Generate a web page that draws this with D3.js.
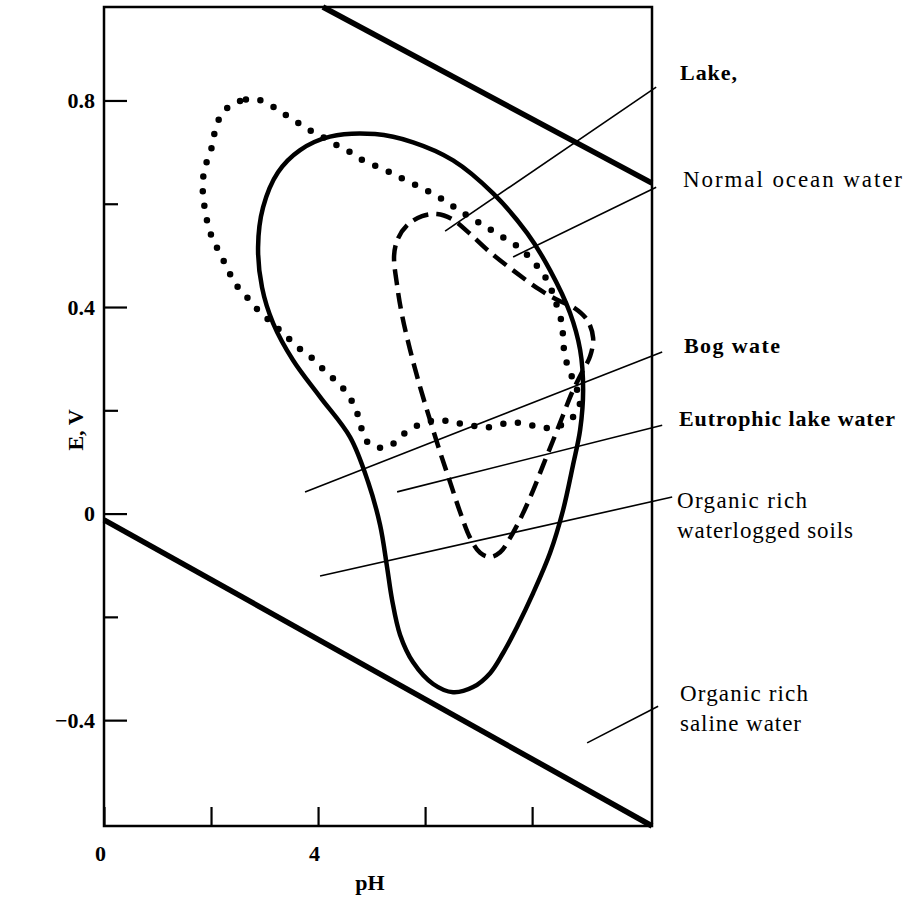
<!DOCTYPE html>
<html><head><meta charset="utf-8">
<script src="https://cdn.jsdelivr.net/npm/d3@7/dist/d3.min.js"></script>
<style>body{margin:0;background:#fff}</style>
</head><body>
<svg id="chart" width="906" height="897"></svg>
<script>
// ---------- data ----------
const xTickValues = [0, 2, 4, 6, 8];
const xTickLabels = ["0", "", "4", "", ""];
const yMajorTicks = [0.8, 0.4, 0, -0.4];
const yMajorLabels = ["0.8", "0.4", "0", "\u22120.4"];
const yMinorTicks = [0.6, 0.2, -0.2];
const xTitle = "pH";
const yTitle = "E, V";

// water stability limits [pH, E]
const upperLimit = [[4.09, 0.981], [10.24, 0.640]];
const lowerLimit = [[0, -0.012], [10.24, -0.605]];

// solid contour
const solidCurve = [
  [5.065,0.735],[5.776,0.719],[6.523,0.684],[7.271,0.620],[7.907,0.543],[8.336,0.471],
  [8.710,0.388],[8.897,0.317],[8.953,0.239],[8.897,0.162],[8.766,0.095],[8.579,0.007],
  [8.336,-0.076],[8.019,-0.154],[7.720,-0.219],[7.458,-0.270],[7.215,-0.309],[6.897,-0.336],
  [6.523,-0.346],[6.150,-0.330],[5.776,-0.288],[5.533,-0.235],[5.383,-0.167],[5.290,-0.104],
  [5.159,-0.022],[4.935,0.061],[4.598,0.148],[4.037,0.226],[3.533,0.297],[3.159,0.369],
  [2.953,0.438],[2.879,0.516],[2.972,0.593],[3.252,0.661],[3.664,0.704],[4.224,0.730]
];

// dotted contour
const dottedCurve = [
  [2.822,0.803],[2.542,0.799],[2.299,0.785],[2.150,0.764],[2.056,0.733],[2.000,0.704],
  [1.907,0.677],[1.850,0.648],[1.850,0.617],[1.888,0.588],[1.944,0.559],[2.037,0.530],
  [2.168,0.504],[2.318,0.472],[2.449,0.446],[2.673,0.419],[2.879,0.394],[3.140,0.369],
  [3.383,0.346],[3.626,0.322],[3.888,0.301],[4.168,0.272],[4.411,0.249],[4.598,0.224],
  [4.729,0.195],[4.822,0.162],[4.972,0.133],[5.308,0.129],[5.570,0.152],[5.869,0.171],
  [6.224,0.181],[6.523,0.177],[6.841,0.171],[7.178,0.167],[7.533,0.175],[7.832,0.175],
  [8.150,0.167],[8.430,0.167],[8.748,0.185],[8.897,0.216],[8.804,0.249],[8.710,0.274],
  [8.617,0.303],[8.579,0.336],[8.561,0.365],[8.430,0.413],[8.280,0.452],[8.112,0.477],
  [7.925,0.499],[7.720,0.518],[7.458,0.535],[7.178,0.553],[6.935,0.568],[6.654,0.586],
  [6.411,0.603],[6.150,0.619],[5.907,0.632],[5.626,0.646],[5.383,0.659],[5.121,0.671],
  [4.841,0.684],[4.598,0.700],[4.355,0.713],[4.093,0.729],[3.850,0.742],[3.607,0.758],
  [3.346,0.775],[3.103,0.791]
];

// dashed contour
const dashedCurve = [
  [5.421,0.500],[5.495,0.533],[5.682,0.560],[5.944,0.576],[6.224,0.580],[6.505,0.570],
  [6.804,0.545],[7.215,0.506],[7.682,0.468],[8.150,0.433],[8.486,0.413],[8.766,0.400],
  [9.028,0.375],[9.140,0.340],[9.084,0.305],[8.935,0.274],[8.748,0.235],[8.579,0.191],
  [8.393,0.142],[8.206,0.094],[8.019,0.045],[7.813,-0.003],[7.589,-0.047],[7.402,-0.075],
  [7.215,-0.084],[7.028,-0.076],[6.841,-0.047],[6.654,0.003],[6.467,0.061],[6.280,0.119],
  [6.093,0.181],[5.907,0.245],[5.720,0.317],[5.570,0.384],[5.477,0.442]
];

// leader lines [from, to] in [pH, E]
const leaderLines = [
  [[6.374,0.547],[10.318,0.826]],
  [[7.645,0.497],[10.318,0.632]],
  [[3.757,0.042],[10.430,0.313]],
  [[5.477,0.042],[10.430,0.171]],
  [[4.037,-0.121],[10.617,0.032]],
  [[9.028,-0.444],[10.355,-0.373]]
];
const labelTexts = [
  ["Lake,"],
  ["Normal ocean water"],
  ["Bog wate"],
  ["Eutrophic lake water"],
  ["Organic rich", "waterlogged soils"],
  ["Organic rich", "saline water"]
];

// ---------- layout ----------
const L = 104, R = 652, T = 7, B = 826;
const svg = d3.select("#chart");
const x = d3.scaleLinear().domain([0, 10.24]).range([L, R]);
const y = d3.scaleLinear().domain([-0.605, 0.981]).range([B, T]);
const serif = "'Liberation Serif', 'Times New Roman', serif";

// frame
svg.append("rect").attr("x", L).attr("y", T).attr("width", R - L).attr("height", B - T)
  .attr("fill", "none").attr("stroke", "#000").attr("stroke-width", 2.5);

// axes
const yAxisMajor = svg.append("g").attr("transform", `translate(${L},0)`)
  .call(d3.axisLeft(y).tickValues(yMajorTicks).tickSize(-23).tickPadding(9)
    .tickFormat((d, i) => yMajorLabels[i]));
const yAxisMinor = svg.append("g").attr("transform", `translate(${L},0)`)
  .call(d3.axisLeft(y).tickValues(yMinorTicks).tickSize(-14).tickFormat(""));
const xAxis = svg.append("g").attr("transform", `translate(0,${B})`)
  .call(d3.axisBottom(x).tickValues(xTickValues).tickSize(-19).tickPadding(19)
    .tickFormat((d, i) => xTickLabels[i]));
[yAxisMajor, yAxisMinor, xAxis].forEach(g => {
  g.select(".domain").remove();
  g.selectAll("line").attr("stroke", "#000").attr("stroke-width", 2.2);
  g.selectAll("text").attr("font-family", serif).attr("font-weight", "bold")
    .attr("font-size", 22).attr("fill", "#000");
});
xAxis.selectAll("text").attr("dx", -4);

// axis titles
svg.append("text").attr("x", 370).attr("y", 890).attr("text-anchor", "middle")
  .attr("font-family", serif).attr("font-weight", "bold").attr("font-size", 22).text(xTitle);
svg.append("text").attr("transform", "translate(83,430) rotate(-90)").attr("text-anchor", "middle")
  .attr("font-family", serif).attr("font-weight", "bold").attr("font-size", 22).text(yTitle);

const line = d3.line().x(d => x(d[0])).y(d => y(d[1]));
const closed = d3.line().x(d => x(d[0])).y(d => y(d[1])).curve(d3.curveCatmullRomClosed.alpha(0.5));

// water limits
[upperLimit, lowerLimit].forEach(pts => {
  svg.append("path").attr("d", line(pts)).attr("fill", "none")
    .attr("stroke", "#000").attr("stroke-width", 5.5);
});

// contours
svg.append("path").attr("d", closed(solidCurve)).attr("fill", "none")
  .attr("stroke", "#000").attr("stroke-width", 4.5);
svg.append("path").attr("d", closed(dottedCurve)).attr("fill", "none")
  .attr("stroke", "#000").attr("stroke-width", 6.5).attr("stroke-linecap", "round")
  .attr("stroke-dasharray", "0 14.7");
svg.append("path").attr("d", closed(dashedCurve)).attr("fill", "none")
  .attr("stroke", "#000").attr("stroke-width", 4.5).attr("stroke-dasharray", "16 8");

// leader lines
leaderLines.forEach(seg => {
  svg.append("path").attr("d", line(seg)).attr("fill", "none")
    .attr("stroke", "#000").attr("stroke-width", 1.6);
});

// labels: positions and target widths
const labelLayout = [
  {x: 680, y: 80, bold: true, size: 22, w: [57]},
  {x: 683, y: 187, bold: false, size: 23, w: [219]},
  {x: 684, y: 353, bold: true, size: 22, w: [96]},
  {x: 679, y: 426, bold: true, size: 22, w: [216]},
  {x: 677, y: 508, bold: false, size: 23, w: [130, 176]},
  {x: 680, y: 701, bold: false, size: 23, w: [128, 121]}
];
labelTexts.forEach((lines, i) => {
  const lay = labelLayout[i];
  lines.forEach((t, j) => {
    svg.append("text").attr("x", lay.x).attr("y", lay.y + j * 29.5)
      .attr("font-family", serif).attr("font-size", lay.size)
      .attr("font-weight", lay.bold ? "bold" : "normal")
      .attr("textLength", lay.w[j]).attr("lengthAdjust", "spacing")
      .attr("fill", "#000").text(t);
  });
});
</script>
</body></html>
